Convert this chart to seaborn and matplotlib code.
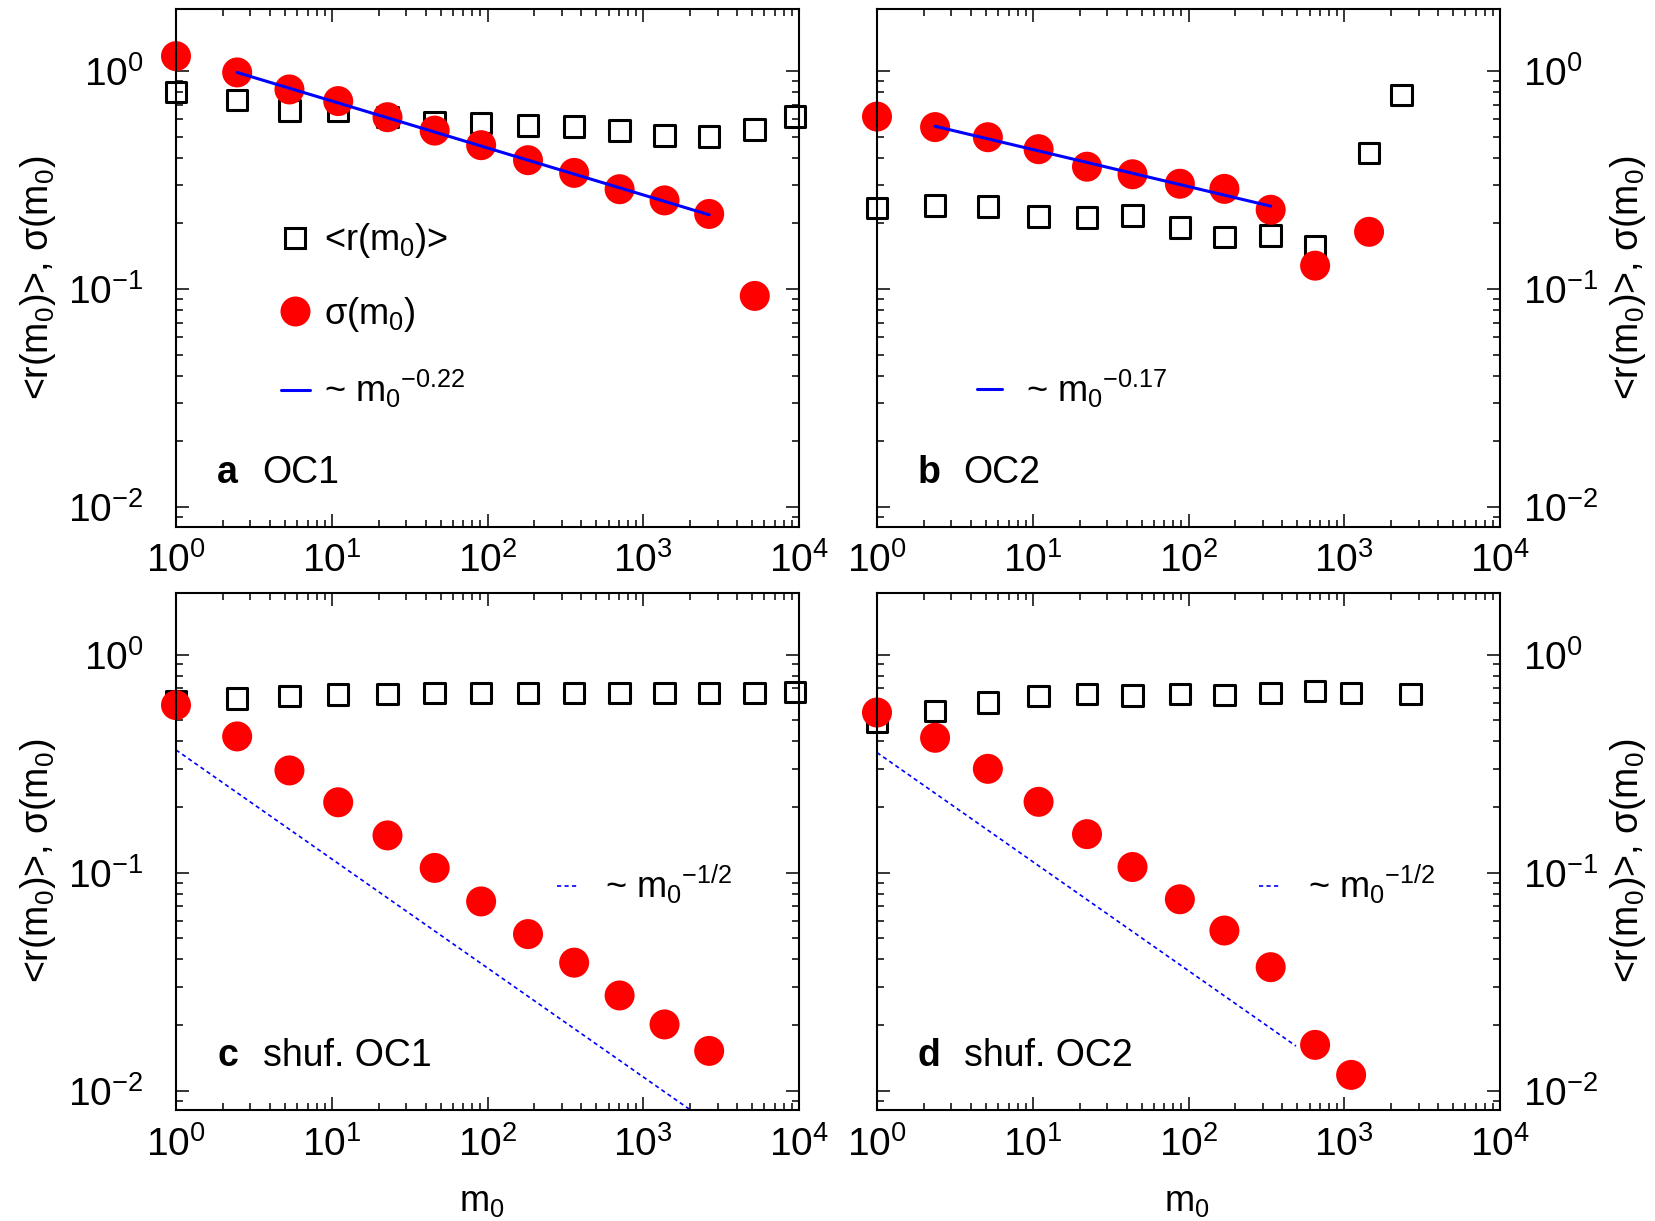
import numpy as np
import matplotlib
matplotlib.use("Agg")
import matplotlib.pyplot as plt
import seaborn as sns
from matplotlib.lines import Line2D
from matplotlib.ticker import LogLocator, NullFormatter, LogFormatterSciNotation

# ---------------- data ----------------
# panel a : OC1
a_m0_r = [1, 2.47, 5.35, 11, 22.8, 45.8, 91, 182, 360, 705, 1370, 2650, 5200, 9450]
a_r = [0.80, 0.736, 0.66, 0.655, 0.615, 0.585, 0.577, 0.562, 0.556, 0.533, 0.505, 0.50, 0.54, 0.62]
a_m0_s = [1, 2.47, 5.35, 11, 22.8, 45.8, 91, 182, 360, 705, 1370, 2650, 5200]
a_s = [1.17, 0.985, 0.823, 0.728, 0.614, 0.533, 0.457, 0.39, 0.341, 0.287, 0.255, 0.221, 0.093]
a_fit_m0 = [2.47, 2650]
a_fit = [0.985, 0.219]

# panel b : OC2
b_m0_r = [1, 2.36, 5.15, 10.9, 22.3, 43.7, 88, 170, 337, 650, 1443, 2340]
b_r = [0.235, 0.242, 0.239, 0.215, 0.213, 0.217, 0.192, 0.173, 0.176, 0.157, 0.42, 0.775]
b_m0_s = [1, 2.36, 5.15, 10.9, 22.3, 43.7, 88, 170, 337, 650, 1443]
b_s = [0.618, 0.553, 0.497, 0.438, 0.364, 0.336, 0.304, 0.288, 0.231, 0.128, 0.183]
b_fit_m0 = [2.36, 337]
b_fit = [0.558, 0.240]

# panel c : shuffled OC1
c_m0_r = [1, 2.47, 5.35, 11, 22.8, 45.8, 91, 182, 360, 705, 1370, 2650, 5200, 9450]
c_r = [0.61, 0.63, 0.645, 0.655, 0.66, 0.667, 0.667, 0.667, 0.667, 0.667, 0.667, 0.667, 0.667, 0.673]
c_m0_s = [1, 2.47, 5.35, 11, 22.8, 45.8, 91, 182, 360, 705, 1370, 2650]
c_s = [0.586, 0.421, 0.294, 0.21, 0.148, 0.105, 0.0737, 0.0522, 0.0386, 0.0273, 0.0201, 0.0152]
c_fit_m0 = [1, 2500]
c_fit = [0.365, 0.0073]

# panel d : shuffled OC2
d_m0_r = [1, 2.36, 5.15, 10.9, 22.3, 43.7, 88, 170, 337, 650, 1107, 2654]
d_r = [0.49, 0.55, 0.604, 0.644, 0.658, 0.65, 0.658, 0.653, 0.667, 0.679, 0.667, 0.658]
d_m0_s = [1, 2.36, 5.15, 10.9, 22.3, 43.7, 88, 170, 337, 650, 1107]
d_s = [0.542, 0.415, 0.299, 0.211, 0.150, 0.106, 0.0754, 0.0542, 0.0368, 0.0162, 0.0118]
d_fit_m0 = [1, 490]
d_fit = [0.355, 0.016]

panel_letters = ["a", "b", "c", "d"]
panel_names = ["OC1", "OC2", "shuf. OC1", "shuf. OC2"]
fit_labels = ["~ m$_0{}^{-0.22}$", "~ m$_0{}^{-0.17}$", "~ m$_0{}^{-1/2}$", "~ m$_0{}^{-1/2}$"]
r_label = "<r(m$_0$)>"
s_label = "σ(m$_0$)"
ylabel = "<r(m$_0$)>, σ(m$_0$)"
xlabel = "m$_0$"

# ---------------- style ----------------
sns.set_style("ticks")
FONT = "Liberation Sans"
plt.rcParams["font.family"] = [FONT, "DejaVu Sans"]
plt.rcParams["mathtext.fontset"] = "custom"
plt.rcParams["mathtext.rm"] = FONT
plt.rcParams["mathtext.it"] = FONT + ":italic"
plt.rcParams["mathtext.bf"] = FONT + ":bold"
plt.rcParams["mathtext.default"] = "regular"
plt.rcParams["axes.edgecolor"] = "black"
plt.rcParams["xtick.color"] = "black"
plt.rcParams["ytick.color"] = "black"
plt.rcParams["text.color"] = "black"
plt.rcParams["axes.labelcolor"] = "black"

RED = "#ff0000"
BLUE = "#0000ff"
FS = 26
FS_TICK = 28
FS_LAB = 27
SQ_MS = 14.8
SQ_MEW = 2.2
CI_MS = 21.6

fig = plt.figure(figsize=(16.56, 12.21), dpi=100)
L1, L2, W = 0.10628, 0.52959, 0.37621
B1, B2, H = 0.56839, 0.09050, 0.42383
axes = [fig.add_axes([L1, B1, W, H]), fig.add_axes([L2, B1, W, H]),
        fig.add_axes([L1, B2, W, H]), fig.add_axes([L2, B2, W, H])]

datasets = [
    (a_m0_r, a_r, a_m0_s, a_s, a_fit_m0, a_fit, "-"),
    (b_m0_r, b_r, b_m0_s, b_s, b_fit_m0, b_fit, "-"),
    (c_m0_r, c_r, c_m0_s, c_s, c_fit_m0, c_fit, ":"),
    (d_m0_r, d_r, d_m0_s, d_s, d_fit_m0, d_fit, ":"),
]

DOT = (0, (2.5, 2.0))

for i, ax in enumerate(axes):
    xr, yr, xs, ys, xf, yf, ls = datasets[i]
    ax.set_xscale("log")
    ax.set_yscale("log")
    ax.set_facecolor("white")

    sns.scatterplot(x=xr, y=yr, ax=ax, marker="s", s=SQ_MS ** 2, color="black",
                    facecolor="none", edgecolor="black", linewidth=SQ_MEW,
                    clip_on=False, zorder=1.6, legend=False)
    sns.scatterplot(x=xs, y=ys, ax=ax, marker="o", s=CI_MS ** 2, color=RED,
                    edgecolor="none", linewidth=0, clip_on=False, zorder=2.0,
                    legend=False)
    if ls == "-":
        sns.lineplot(x=xf, y=yf, ax=ax, color=BLUE, lw=2.2, zorder=2.3, legend=False)
    else:
        sns.lineplot(x=xf, y=yf, ax=ax, color=BLUE, lw=1.2, linestyle=DOT,
                     zorder=2.3, legend=False)

    ax.set_xlim(1, 1e4)
    ax.set_ylim(0.0081, 1.915)
    for axis in (ax.xaxis, ax.yaxis):
        axis.set_major_locator(LogLocator(base=10, numticks=10))
        axis.set_major_formatter(LogFormatterSciNotation(base=10))
        axis.set_minor_locator(LogLocator(base=10, subs=np.arange(2, 10), numticks=100))
        axis.set_minor_formatter(NullFormatter())
    ax.tick_params(which="both", direction="in", top=True, bottom=True,
                   left=True, right=True, width=1.1, colors="black")
    ax.tick_params(which="major", length=9.4)
    ax.tick_params(which="minor", length=5)
    ax.tick_params(axis="x", which="major", pad=11, labelsize=FS_TICK)
    for sp in ax.spines.values():
        sp.set_linewidth(1.5)
        sp.set_color("black")
        sp.set_visible(True)

    left_side = (i % 2 == 0)
    ylab_y = 0.481 if i < 2 else 0.482
    if left_side:
        ax.tick_params(axis="y", which="both", labelleft=True, labelright=False)
        ax.tick_params(axis="y", which="major", pad=23.5, labelsize=FS_TICK)
        ax.set_ylabel(ylabel, fontsize=FS_LAB, va="center", ha="center", rotation=90)
        ax.yaxis.set_label_coords(-0.221, ylab_y)
    else:
        ax.tick_params(axis="y", which="both", labelleft=False, labelright=True)
        ax.tick_params(axis="y", which="major", pad=16.5, labelsize=FS_TICK)
        ax.yaxis.set_label_position("right")
        ax.set_ylabel(ylabel, fontsize=FS_LAB, va="center", ha="center", rotation=90)
        ax.yaxis.set_label_coords(1.205, ylab_y)

    if i >= 2:
        ax.set_xlabel(xlabel, fontsize=26, va="center", ha="center")
        ax.xaxis.set_label_coords(0.491 if i == 2 else 0.497, -0.175)
    else:
        ax.set_xlabel("")

    # panel tag
    lx = 0.066 if left_side else 0.0647
    nx = 0.139
    by = 0.085 if i < 2 else 0.0866
    ax.text(lx, by, panel_letters[i], transform=ax.transAxes, fontsize=27,
            fontweight="bold", ha="left", va="baseline")
    ax.text(nx, by, panel_names[i], transform=ax.transAxes, fontsize=27,
            ha="left", va="baseline")

    # legends
    fit_handle = Line2D([], [], color=BLUE, lw=2.2 if ls == "-" else 1.2,
                        linestyle="-" if ls == "-" else DOT)
    if i == 0:
        handles = [Line2D([], [], marker="s", ls="none", mfc="none", mec="black",
                          mew=SQ_MEW, ms=SQ_MS),
                   Line2D([], [], marker="o", ls="none", mfc=RED, mec="none", ms=CI_MS),
                   fit_handle]
        labels = [r_label, s_label, fit_labels[0]]
        leg = ax.legend(handles, labels, loc="center left", bbox_to_anchor=(0.168, 0.408),
                        frameon=False, fontsize=FS, handlelength=0.8, handletextpad=0.4,
                        labelspacing=0.95, borderpad=0, borderaxespad=0)
    elif i == 1:
        leg = ax.legend([fit_handle], [fit_labels[1]], loc="center left",
                        bbox_to_anchor=(0.1605, 0.267), frameon=False, fontsize=FS,
                        handlelength=0.7, handletextpad=0.65, borderpad=0, borderaxespad=0)
    else:
        leg = ax.legend([fit_handle], [fit_labels[i]], loc="center left",
                        bbox_to_anchor=(0.611 if i == 2 else 0.613, 0.436), frameon=False,
                        fontsize=FS, handlelength=0.6, handletextpad=0.75, borderpad=0,
                        borderaxespad=0)

fig.savefig("out.png", dpi=100)
